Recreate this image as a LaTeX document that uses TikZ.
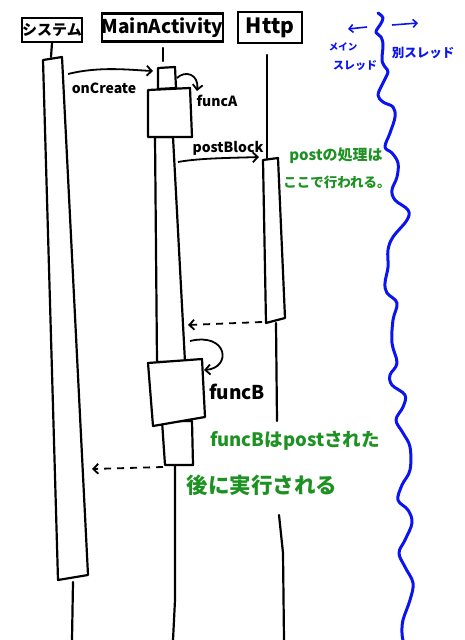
\documentclass[tikz,border=0pt]{standalone}
\usepackage{fontspec}
\setmainfont{Noto Sans CJK JP}
\usepackage{tikz}
\usetikzlibrary{arrows.meta,positioning}
\definecolor{notegreen}{RGB}{30,145,35}
\definecolor{thrblue}{RGB}{10,20,240}

\begin{document}
\begin{tikzpicture}[x=1pt,y=-1pt,
  font=\bfseries,
  hdr/.style={draw,line width=2.2pt,inner sep=0pt,font=\bfseries\fontsize{#1}{#1}\selectfont},
  bar/.style={draw,line width=2.2pt,fill=white,line join=round},
  life/.style={line width=2.2pt,line cap=round},
  msg/.style={-{Straight Barb[length=5pt,width=10pt]},line width=1.8pt},
  ret/.style={msg,dash pattern=on 7pt off 6pt},
  lbl/.style={inner sep=0pt,font=\bfseries\fontsize{#1}{#1}\selectfont},
  note/.style={lbl=#1,text=notegreen},
  thr/.style={lbl=#1,text=thrblue}]
\useasboundingbox (0,0) rectangle (464,640);
% headers
\node[hdr=15,minimum width=60pt,minimum height=24pt] (sys) at (52,30) {システム};
\node[hdr=19,minimum width=119pt,minimum height=28pt] (main) at (162.5,27.5) {MainActivity};
\node[hdr=21,minimum width=64pt,minimum height=31pt] (http) at (270,27.5) {Http};
% lifelines and activations
\draw[life] (sys.south) -- (51,57);
\draw[bar] (43,60) -- (62,57) -- (88,575) -- (58,580) -- cycle;
\draw[life] (73,582) -- (72,640);
\draw[life] (163,48) -- (163,61);
\draw[bar] (155,137) -- (173,137) -- (185,362) -- (157,362) -- cycle;
\draw[bar] (148,90) -- (190,88) -- (192,137) -- (148,137) -- cycle;
\draw[bar] (158,68) -- (175,67) -- (176,88) -- (158,89) -- cycle;
\draw[bar] (162,421) -- (192,421) -- (193,465) -- (165,465) -- cycle;
\draw[bar] (148,363) -- (202,359) -- (205,417) -- (153,426) -- cycle;
\draw[life] (175,466) -- (175,600) -- (173,640);
\draw[life] (267,55) -- (267,158);
\draw[bar] (263,160) -- (278,158) -- (285,318) -- (266,323) -- cycle;
\draw[life] (276,323) -- (277,421);
\draw[life] (279,515) -- (283,553) -- (284,640);
% message ends
\coordinate (onA) at (68,74);
\coordinate (onB) at (153,71);
\coordinate (fa1) at (177,78);
\coordinate (fa2) at (197,91);
\coordinate (pbA) at (178,162);
\coordinate (pbB) at (259,157);
\coordinate (r1A) at (262,322);
\coordinate (r1B) at (188,325);
\coordinate (fb1) at (190,341);
\coordinate (fb2) at (204,370);
\coordinate (r2A) at (163,467);
\coordinate (r2B) at (92,469);
% messages
\draw[msg] (onA) .. controls (100,66) and (130,70) .. (onB);
\draw[msg] (fa1) .. controls (185,70) and (199,74) .. (fa2);
\draw[msg] (pbA) .. controls (200,158) and (230,158) .. (pbB);
\draw[ret] (r1A) -- (r1B);
\draw[msg] (fb1) .. controls (228,332) and (232,368) .. (fb2);
\draw[ret] (r2A) -- (r2B);
% labels
\node[lbl=14] (onCreate) at (104,88) {onCreate};
\node[lbl=14] (funcA) at (217,101) {funcA};
\node[lbl=14] (postBlock) at (228,148) {postBlock};
\node[lbl=19] (funcB) at (237,392) {funcB};
% notes
\node[note=15] (note1) at (336,156) {postの処理は};
\node[note=13.5] (note2) at (337,182) {ここで行われる。};
\node[note=18.5] (note3) at (295,441) {funcBはpostされた};
\node[note=21.5] (note4) at (262,485) {後に実行される};
% threads
\draw[thrblue,line width=3pt,line cap=round,line join=round]
  plot[smooth,tension=0.6] coordinates {(378,13) (383,18) (380,25) (376,32) (381,37)
  (383,45) (382,60) (385,67) (388,72) (383,83) (378,95) (383,102) (393,107)
  (395,117) (390,133) (385,147) (392,153) (398,163) (397,177) (392,190)
  (395,200) (408,210) (407,220) (393,237) (388,250) (388,267) (385,283)
  (387,293) (397,303) (393,320) (392,343) (397,363) (390,375) (392,385)
  (405,395) (403,407) (396,420) (403,433) (410,447) (410,470) (402,485)
  (398,500) (408,510) (412,523) (405,540) (399,553) (405,567) (413,583)
  (410,600) (403,620) (402,633) (403,640)};
\coordinate (lArrA) at (367,27);
\coordinate (lArrB) at (348,29);
\coordinate (rArrA) at (392,25);
\coordinate (rArrB) at (418,23);
\draw[thrblue,-{Straight Barb[length=4pt,width=8pt]},line width=1.6pt] (lArrA) -- (lArrB);
\draw[thrblue,-{Straight Barb[length=4pt,width=8pt]},line width=1.6pt] (rArrA) -- (rArrB);
\node[thr=9.5] (mainThr) at (343,47) {メイン};
\node[thr=11] (mainThr2) at (355,66) {スレッド};
\node[thr=12.5] (subThr) at (423,53) {別スレッド};
\end{tikzpicture}
\end{document}
